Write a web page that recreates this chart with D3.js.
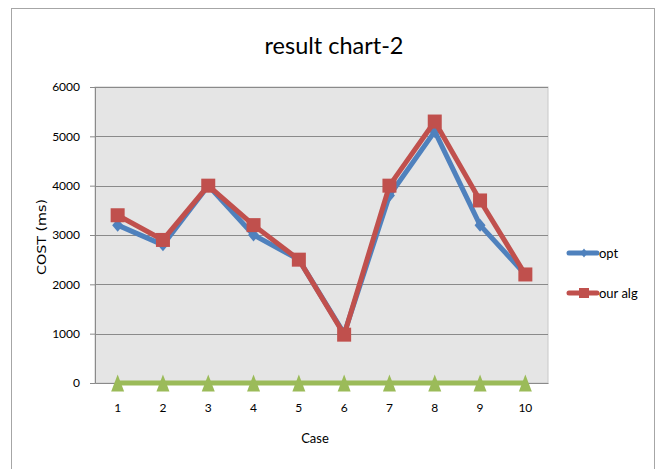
<!DOCTYPE html>
<html>
<head>
<meta charset="utf-8">
<script src="https://cdn.jsdelivr.net/npm/d3@7"></script>
<style>
  html, body { margin: 0; padding: 0; background: #fff; }
  svg { display: block; }
  text { font-family: Lato, "Open Sans", sans-serif; fill: #000; }
</style>
</head>
<body>
<svg id="chart" width="662" height="469"></svg>
<script>
// Cost per test case (ms)
const cases = ["1", "2", "3", "4", "5", "6", "7", "8", "9", "10"];
const optValues = [3200, 2800, 4000, 3000, 2500, 1000, 3800, 5100, 3200, 2200];
const ourAlgValues = [3400, 2900, 4000, 3200, 2500, 980, 4000, 5300, 3700, 2200];
const baseValues = [0, 0, 0, 0, 0, 0, 0, 0, 0, 0];
const yTicks = [0, 1000, 2000, 3000, 4000, 5000, 6000];

const svg = d3.select("#chart");

// outer frame
svg.append("rect")
  .attr("x", 11.5).attr("y", 8.5)
  .attr("width", 643).attr("height", 470)
  .attr("fill", "#fff").attr("stroke", "#a6a6a6").attr("stroke-width", 1);

const plot = { left: 95, top: 87, right: 548, bottom: 383 };

const x = d3.scaleBand().domain(cases).range([plot.left, plot.right]);
const y = d3.scaleLinear().domain([0, 6000]).range([plot.bottom, plot.top]);

// plot background
svg.append("rect")
  .attr("x", plot.left).attr("y", plot.top)
  .attr("width", plot.right - plot.left).attr("height", plot.bottom - plot.top)
  .attr("fill", "#e5e5e5").attr("stroke", "#c8c8c8");

// horizontal gridlines
svg.append("g").selectAll("line").data(yTicks.filter(d => d > 0)).join("line")
  .attr("x1", plot.left).attr("x2", plot.right)
  .attr("y1", d => Math.round(y(d)) + 0.5).attr("y2", d => Math.round(y(d)) + 0.5)
  .attr("stroke", "#8a8a8a").attr("stroke-width", 1);

const tickFont = "Lato, \"Open Sans\", sans-serif";

// y axis
const yAxis = svg.append("g")
  .attr("transform", `translate(${plot.left},0)`)
  .call(d3.axisLeft(y).tickValues(yTicks).tickSize(5).tickPadding(10).tickFormat(d3.format("d")));
yAxis.select(".domain").attr("stroke", "#8a8a8a");
yAxis.selectAll(".tick line").attr("stroke", "#8a8a8a");
yAxis.selectAll("text")
  .style("font-size", "12px").style("font-family", tickFont)
  .attr("fill", "#000");

// x axis
const xAxis = svg.append("g")
  .attr("transform", `translate(0,${plot.bottom})`)
  .call(d3.axisBottom(x).tickSize(0).tickPadding(20));
xAxis.select(".domain").attr("stroke", "#8a8a8a");
xAxis.selectAll("text")
  .style("font-size", "12px").style("font-family", tickFont)
  .attr("fill", "#000");

const cx = d => x(d) + x.bandwidth() / 2;
const line = d3.line().x((d, i) => cx(cases[i])).y(d => y(d));

const colors = { opt: "#4f81bd", alg: "#c0504d", base: "#9bbb59" };

// tall triangle marker
const triangle = "M0,-8.5L6.5,8.5L-6.5,8.5Z";

// baseline series (triangles)
svg.append("path").datum(baseValues)
  .attr("d", line).attr("fill", "none")
  .attr("stroke", colors.base).attr("stroke-width", 5);
svg.append("g").selectAll("path").data(baseValues).join("path")
  .attr("transform", (d, i) => `translate(${cx(cases[i])},${y(d)})`)
  .attr("d", triangle)
  .attr("fill", colors.base);

// opt series (diamonds)
svg.append("path").datum(optValues)
  .attr("d", line).attr("fill", "none")
  .attr("stroke", colors.opt).attr("stroke-width", 5).attr("stroke-linejoin", "round");
svg.append("g").selectAll("path").data(optValues).join("path")
  .attr("transform", (d, i) => `translate(${cx(cases[i])},${y(d)})`)
  .attr("d", "M0,-6.5L5.5,0L0,6.5L-5.5,0Z")
  .attr("fill", colors.opt);

// our alg series (squares)
svg.append("path").datum(ourAlgValues)
  .attr("d", line).attr("fill", "none")
  .attr("stroke", colors.alg).attr("stroke-width", 5).attr("stroke-linejoin", "round");
svg.append("g").selectAll("rect").data(ourAlgValues).join("rect")
  .attr("x", (d, i) => cx(cases[i]) - 7)
  .attr("y", d => y(d) - 7)
  .attr("width", 14).attr("height", 14)
  .attr("fill", colors.alg);

// title
svg.append("text")
  .attr("x", 334).attr("y", 54)
  .attr("text-anchor", "middle")
  .attr("textLength", 139).attr("lengthAdjust", "spacingAndGlyphs")
  .style("font-size", "24px")
  .text("result chart-2");

// axis titles
svg.append("text")
  .attr("transform", "translate(46,237) rotate(-90)")
  .attr("text-anchor", "middle")
  .attr("textLength", 76).attr("lengthAdjust", "spacingAndGlyphs")
  .style("font-size", "12.5px")
  .style("font-family", "\"DejaVu Sans\", sans-serif")
  .text("COST (ms)");
svg.append("text")
  .attr("x", 315).attr("y", 443)
  .attr("text-anchor", "middle")
  .style("font-size", "13px")
  .text("Case");

// legend
const legend = [
  { name: "opt", color: colors.opt, y: 253, shape: "M0,-4.5L3.5,0L0,4.5L-3.5,0Z" },
  { name: "our alg", color: colors.alg, y: 293, shape: "M-5,-5H5V5H-5Z" }
];
const lg = svg.append("g").selectAll("g").data(legend).join("g");
lg.append("line")
  .attr("x1", 569).attr("x2", 597)
  .attr("y1", d => d.y).attr("y2", d => d.y)
  .attr("stroke", d => d.color).attr("stroke-width", 5).attr("stroke-linecap", "round");
lg.append("path")
  .attr("transform", d => `translate(584,${d.y})`)
  .attr("d", d => d.shape)
  .attr("fill", d => d.color);
lg.append("text")
  .attr("x", 599).attr("y", d => d.y + 5)
  .style("font-size", "13px")
  .text(d => d.name);
</script>
</body>
</html>
